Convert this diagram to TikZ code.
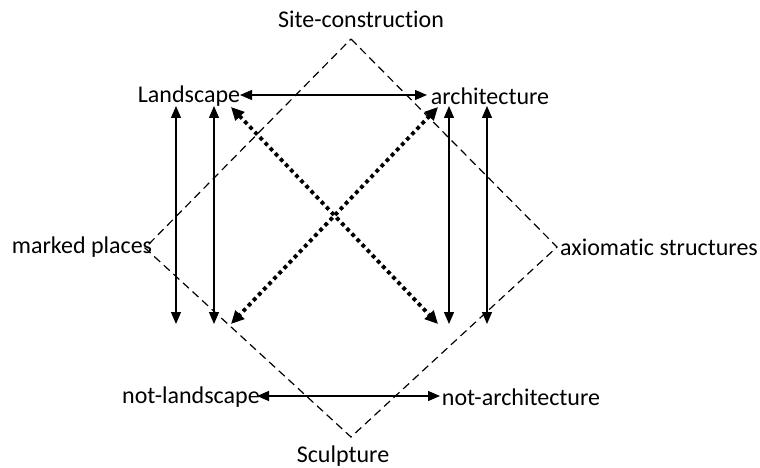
\documentclass[tikz,border=0pt]{standalone}
\usepackage{fontspec}
\setmainfont[Ligatures=NoCommon]{Carlito}
\usetikzlibrary{arrows.meta}
\begin{document}
\begin{tikzpicture}[x=1pt,y=-1pt,
  lbl/.style={font=\fontsize{24}{28}\selectfont, inner sep=0pt},
  frame/.style={line width=1.2pt, dash pattern=on 8pt off 5pt},
  link/.style={line width=1.3pt, {Triangle[length=12pt,width=10pt]}-{Triangle[length=12pt,width=10pt]}},
  cross/.style={line width=3.8pt, dash pattern=on 3.8pt off 3.6pt, {Triangle[length=13pt,width=12pt]}-{Triangle[length=13pt,width=12pt]}}]
\useasboundingbox (0,0) rectangle (760,468);

% labels
\node[lbl] (site) at (361,19) {Site-construction};
\node[lbl] (land) at (189,96) {Landscape};
\node[lbl] (arch) at (490,96) {architecture};
\node[lbl] (marked) at (82,247) {marked places};
\node[lbl] (axiom) at (659,247) {axiomatic structures};
\node[lbl] (notland) at (191,397) {not-landscape};
\node[lbl] (notarch) at (521,397) {not-architecture};
\node[lbl] (sculp) at (343,456) {Sculpture};

% dashed square frame
\coordinate (top) at (351,39);
\coordinate (right) at (557,247);
\coordinate (bottom) at (351,437);
\coordinate (left) at (145,248);
\draw[frame] (top) -- (right) -- (bottom) -- (left) -- cycle;

% end points of the arrows
\coordinate (l1t) at (176,106);
\coordinate (l1b) at (176,324);
\coordinate (l2t) at (214,106);
\coordinate (l2b) at (214,324);
\coordinate (r1t) at (449,106);
\coordinate (r1b) at (449,324);
\coordinate (r2t) at (487,106);
\coordinate (r2b) at (487,324);
\coordinate (dlt) at (231,107);
\coordinate (drb) at (438,324);
\coordinate (drt) at (438,107);
\coordinate (dlb) at (231,324);
\coordinate (ha) at (240,95);
\coordinate (hb) at (427,95);
\coordinate (ba) at (257,396);
\coordinate (bb) at (440,396);

% horizontal arrows
\draw[link] (ha) -- (hb);
\draw[link] (ba) -- (bb);

% vertical arrows
\draw[link] (l1t) -- (l1b);
\draw[link] (l2t) -- (l2b);
\draw[link] (r1t) -- (r1b);
\draw[link] (r2t) -- (r2b);

% dotted diagonals
\draw[cross] (dlt) -- (drb);
\draw[cross] (drt) -- (dlb);
\end{tikzpicture}
\end{document}
